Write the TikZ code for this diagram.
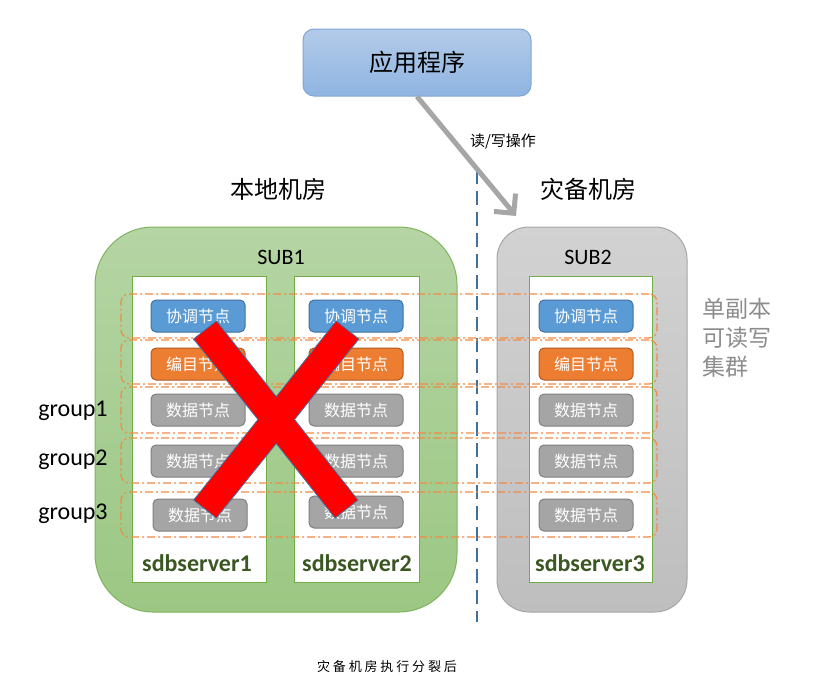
\documentclass[tikz,border=0pt]{standalone}
\usepackage{fontspec}
\setmainfont{Carlito}
\newfontfamily\cjk{Noto Sans CJK SC}
\usetikzlibrary{arrows.meta,shadings}
\definecolor{nblue}{HTML}{5B9BD5}
\definecolor{nblueb}{HTML}{41719C}
\definecolor{norange}{HTML}{ED7D31}
\definecolor{norangeb}{HTML}{AE5A21}
\definecolor{ngray}{HTML}{A5A5A5}
\definecolor{ngrayb}{HTML}{7F7F7F}
\definecolor{grgreen}{HTML}{70AD47}
\definecolor{subgtop}{HTML}{B5D5A4}
\definecolor{subgbot}{HTML}{9BC783}
\definecolor{subgb}{HTML}{7FB35E}
\definecolor{subgraytop}{HTML}{D2D2D2}
\definecolor{subgraybot}{HTML}{BEBEBE}
\definecolor{subgrayb}{HTML}{A6A6A6}
\definecolor{apptop}{HTML}{B3CBE9}
\definecolor{appbot}{HTML}{8FB4E1}
\definecolor{appb}{HTML}{7FA6D6}
\definecolor{srvtext}{HTML}{3B5722}
\definecolor{grporange}{HTML}{F08A45}
\definecolor{arrgray}{HTML}{A6A6A6}
\definecolor{dashblue}{HTML}{41719C}
\definecolor{sidegray}{HTML}{8C8C8C}
\begin{document}
\begin{tikzpicture}[x=1pt,y=-1pt,
  cjknode/.style={font=\cjk\fontsize{16}{16}\selectfont, text=white, rounded corners=5pt, minimum width=94pt, minimum height=32pt, inner sep=0pt, line width=1pt},
  coordnode/.style={cjknode, fill=nblue, draw=nblueb},
  catnode/.style={cjknode, fill=norange, draw=norangeb},
  datanode/.style={cjknode, fill=ngray, draw=ngrayb},
  serverbox/.style={draw=grgreen, fill=white, line width=1pt, minimum height=306pt, inner sep=0pt},
  grouprow/.style={draw=grporange, line width=1.2pt, dash pattern=on 8pt off 3pt on 2pt off 3pt, rounded corners=8pt, minimum width=536pt, inner sep=0pt},
  latinlabel/.style={font=\fontsize{22}{22}\selectfont, text=black, inner sep=0pt},
  grouplabel/.style={font=\fontsize{24}{24}\selectfont, text=black, inner sep=0pt},
  srvlabel/.style={font=\bfseries\fontsize{24}{24}\selectfont, text=srvtext, inner sep=0pt},
  cjktitle/.style={font=\cjk\fontsize{24}{24}\selectfont, text=black, inner sep=0pt}
]
\useasboundingbox (0,0) rectangle (825,691);

% application box
\node[draw=appb, line width=1pt, top color=apptop, bottom color=appbot, rounded corners=11pt, minimum width=228pt, minimum height=67pt, inner sep=0pt, font=\cjk\fontsize{24}{24}\selectfont] (app) at (417,62.5) {应用程序};

% room titles
\node[cjktitle] (localroom) at (278,189) {本地机房};
\node[cjktitle] (dr) at (588,189) {灾备机房};

% dashed separator
\coordinate (dtop) at (477,170);
\coordinate (dbot) at (477,622);
\draw[dashblue, line width=2.6pt, dash pattern=on 14pt off 7pt] (dtop) -- (dbot);

% SUB boxes
\node[draw=subgb, line width=1pt, top color=subgtop, bottom color=subgbot, rounded corners=58pt, minimum width=362pt, minimum height=385pt, inner sep=0pt] (sub1) at (276,419.5) {};
\node[draw=subgrayb, line width=1pt, top color=subgraytop, bottom color=subgraybot, rounded corners=32pt, minimum width=190pt, minimum height=385pt, inner sep=0pt] (sub2) at (592,419.5) {};
\node[latinlabel] (sub1lbl) at (281,257) {SUB1};
\node[latinlabel] (sub2lbl) at (588,257) {SUB2};

% server boxes
\node[serverbox, minimum width=134pt] (s1) at (199,429.5) {};
\node[serverbox, minimum width=125pt] (s2) at (356.5,429.5) {};
\node[serverbox, minimum width=123pt] (s3) at (590.5,429.5) {};
\node[srvlabel] (s1lbl) at (197,563) {sdbserver1};
\node[srvlabel] (s2lbl) at (357,563) {sdbserver2};
\node[srvlabel] (s3lbl) at (590,563) {sdbserver3};

% group rows
\node[grouprow, minimum height=44pt] (row1) at (389,316) {};
\node[grouprow, minimum height=44pt] (row2) at (389,362) {};
\node[grouprow, minimum height=46pt] (row3) at (389,410) {};
\node[grouprow, minimum height=45pt] (row4) at (389,460.5) {};
\node[grouprow, minimum height=45pt] (row5) at (389,514.5) {};

% nodes in sdbserver1
\node[coordnode] (c1) at (198,316) {协调节点};
\node[catnode] (k1) at (198,364) {编目节点};
\node[datanode] (d11) at (198,410) {数据节点};
\node[datanode] (d12) at (198,461) {数据节点};
\node[datanode] (d13) at (200,515) {数据节点};
% nodes in sdbserver2
\node[coordnode] (c2) at (356,316) {协调节点};
\node[catnode] (k2) at (356,364) {编目节点};
\node[datanode] (d21) at (356,410) {数据节点};
\node[datanode] (d22) at (356,461) {数据节点};
\node[datanode] (d23) at (356,512) {数据节点};
% nodes in sdbserver3
\node[coordnode] (c3) at (586,316) {协调节点};
\node[catnode] (k3) at (586,364) {编目节点};
\node[datanode] (d31) at (586,410) {数据节点};
\node[datanode] (d32) at (586,461) {数据节点};
\node[datanode] (d33) at (586,515) {数据节点};

% group labels
\node[grouplabel] (g1) at (73,411) {group1};
\node[grouplabel] (g2) at (73,460) {group2};
\node[grouplabel] (g3) at (73,514) {group3};

% side label
\node[font=\cjk\fontsize{23}{29}\selectfont, text=sidegray, align=left, inner sep=0pt] (side) at (737,338) {单副本\\可读写\\集群};

% red cross
\filldraw[fill=red, draw=nblueb, line width=0.8pt]
  (193.6,339) -- (216.4,321) -- (276.25,396.7) -- (336.2,321) -- (358.8,339) -- (294.5,419.5)
  -- (357.9,500) -- (335.1,518) -- (276.25,443.5) -- (216.3,518) -- (193.7,500) -- (258,419.5) -- cycle;

% read/write arrow
\coordinate (arrend) at (516,216);
\draw[arrgray, line width=5pt, -{Straight Barb[length=14pt,width=28pt]}] (app.south) -- (arrend);
\node[font=\cjk\fontsize{15}{15}\selectfont, inner sep=0pt] (rw) at (503,142) {读/写操作};

% caption
\node[font=\cjk\fontsize{13}{13}\selectfont\addfontfeature{LetterSpace=22}, inner sep=0pt] (cap) at (387,667) {灾备机房执行分裂后};
\end{tikzpicture}
\end{document}
